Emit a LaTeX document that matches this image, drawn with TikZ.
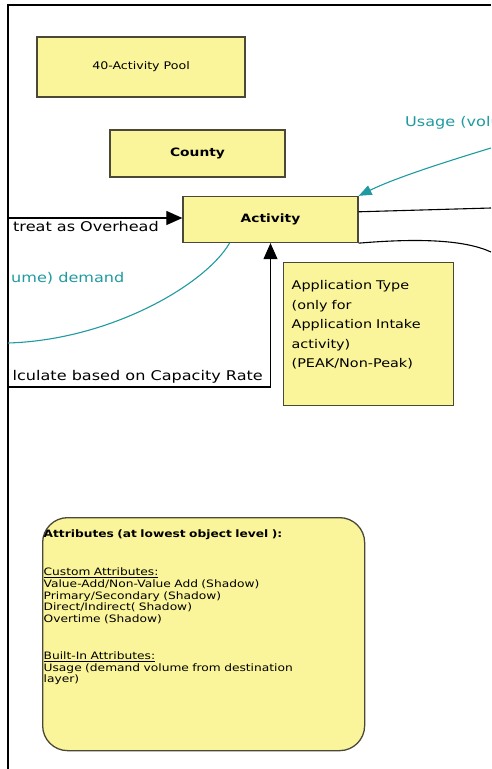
\documentclass[tikz,border=0pt]{standalone}
\usepackage{fontspec}
\setmainfont{DejaVu Sans}[FakeStretch=1.2]
\usetikzlibrary{arrows.meta}
\definecolor{boxyellow}{HTML}{FAF59A}
\definecolor{boxedge}{HTML}{4B4838}
\definecolor{usageteal}{HTML}{1E9AA0}

\tikzset{
	entity/.style={draw=boxedge, fill=boxyellow, line width=1.3pt, inner sep=0pt},
	flow/.style={line width=1.1pt, -{Triangle[length=16pt,width=14pt]}},
	usage/.style={usageteal, line width=1.1pt},
	bigtext/.style={font=\fontsize{13.4}{16}\selectfont},
	headtext/.style={font=\fontsize{11.5}{14}\selectfont\bfseries},
}

\begin{document}
\begin{tikzpicture}[x=1pt,y=-1pt]
	\useasboundingbox (0,0) rectangle (491,769);
	\draw[line width=1.8pt] (8,769) -- (8,5) -- (491,5);

	\node[entity, minimum width=208pt, minimum height=60pt, font=\fontsize{10.5}{12}\selectfont] (pool) at (141,67) {40-Activity Pool};
	\node[entity, minimum width=175pt, minimum height=47pt, headtext] (county) at (197.5,153.5) {County};
	\node[entity, minimum width=175pt, minimum height=46pt, headtext] (activity) at (270.5,219.5) {Activity};

	\node[entity, anchor=north west, text width=154pt, align=left, inner xsep=8pt, inner ysep=6pt, text height=21pt, text depth=110pt, font=\fontsize{12}{19.5}\selectfont] (apptype) at (283,262) {Application Type\\(only for\\Application Intake\\activity)\\(PEAK/Non-Peak)};

	\node[entity, rounded corners=25pt, anchor=north west, text width=320pt, align=left, inner xsep=1pt, inner ysep=9pt, text height=11pt, text depth=204pt, font=\fontsize{10.2}{11.7}\selectfont] (attr) at (42,517) {\textbf{Attributes (at lowest object level ):}\\[26.3pt]\underline{Custom Attributes:}\\Value-Add/Non-Value Add (Shadow)\\Primary/Secondary (Shadow)\\Direct/Indirect( Shadow)\\Overtime (Shadow)\\[25.3pt]\underline{Built-In Attributes:}\\Usage (demand volume from destination\\layer)};

	\coordinate (ohin) at (8,218);
	\draw[flow] (ohin) -- (activity.west |- ohin);
	\node[bigtext, anchor=north east, inner sep=1pt] (ohlabel) at (160,220) {treat as Overhead};

	\coordinate (capin) at (8,387);
	\draw[flow] (capin) -| (activity.south);
	\node[bigtext, anchor=south east, inner sep=1pt] (caplabel) at (264,384) {lculate based on Capacity Rate};

	\coordinate (usagein) at (491,148);
	\draw[usage, -{Triangle[length=13pt,width=10pt]}] (usagein) .. controls (445,162) and (395,178) .. (activity.north east);
	\node[bigtext, usageteal, anchor=west, inner sep=1pt] (usagelabel) at (404,123) {Usage (volu};

	\coordinate (demandout) at (8,343);
	\draw[usage] (activity.210) .. controls (205,285) and (110,340) .. (demandout);
	\node[bigtext, usageteal, anchor=west, inner sep=1pt] (demandlabel) at (10,278) {ume) demand};

	\coordinate (rightone) at (491,208);
	\coordinate (righttwo) at (491,252);
	\draw[line width=1.1pt] (activity.5) -- (rightone);
	\draw[line width=1.1pt] (activity.south east) .. controls (420,238) and (465,240) .. (righttwo);
\end{tikzpicture}
\end{document}
